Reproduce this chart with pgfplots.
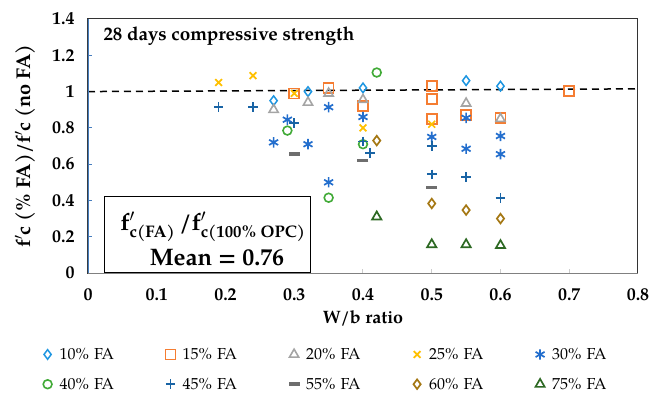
\documentclass[border=0pt]{standalone}
\usepackage{fontspec}
\setmainfont{TeX Gyre Pagella}
\usepackage{amsmath}
\usepackage{pgfplots}
\pgfplotsset{compat=1.18}
\definecolor{cA}{RGB}{30,150,225}
\definecolor{cB}{RGB}{245,125,50}
\definecolor{cC}{RGB}{165,165,165}
\definecolor{cD}{RGB}{255,192,0}
\definecolor{cE}{RGB}{35,110,205}
\definecolor{cF}{RGB}{65,170,55}
\definecolor{cG}{RGB}{25,100,165}
\definecolor{cH}{RGB}{110,110,110}
\definecolor{cI}{RGB}{165,120,20}
\definecolor{cJ}{RGB}{45,105,35}
\definecolor{leftblue}{RGB}{70,125,190}
\begin{document}
\begin{tikzpicture}
\useasboundingbox (-88bp,-121bp) rectangle (576bp,273bp);
\begin{axis}[
  at={(0,0)}, anchor=south west,
  scale only axis, width=550bp, height=254bp,
  xmin=0, xmax=0.8, ymin=0, ymax=1.4,
  xtick={0,0.1,0.2,0.3,0.4,0.5,0.6,0.7,0.8},
  xticklabels={0,0.1,0.2,0.3,0.4,0.5,0.6,0.7,0.8},
  ytick={0,0.2,0.4,0.6,0.8,1,1.2,1.4},
  yticklabels={0,0.2,0.4,0.6,0.8,1,1.2,1.4},
  /pgf/number format/assume math mode=true,
  tick label style={font=\fontsize{18}{18}\selectfont\bfseries},
  yticklabel style={xshift=-10bp},
  xticklabel style={yshift=-12bp},
  tick align=inside, major tick length=4bp,
  ytick pos=left, xtick pos=bottom,
  y tick style={leftblue, line width=1bp},
  x tick style={black!20, line width=1bp},
  axis line style={draw=black!80, line width=1bp},
  xlabel={W/b ratio}, ylabel={f$'$c (\% FA)/f$'$c (no FA)},
  xlabel style={font=\fontsize{18}{18}\selectfont\bfseries, at={(axis description cs:0.5,-0.177)}, anchor=center},
  ylabel style={font=\fontsize{20}{20}\selectfont\bfseries, at={(axis description cs:-0.1145,0.5)}, anchor=center},
  legend columns=5,
  legend cell align=left,
  legend style={at={(0.477,-0.279)}, anchor=north, draw=none, fill=none,
    font=\fontsize{16}{16}\selectfont, column sep=0bp, row sep=13bp,
    nodes={text width=103bp, inner xsep=3bp, align=left}},
  legend image code/.code={\path[draw=none] (0bp,0bp) -- (14bp,0bp); \draw[mark repeat=1,#1] plot coordinates {(5bp,0bp)};},
]
\addplot[forget plot, black, line width=1.5bp, dash pattern=on 7bp off 5bp] coordinates {(0,1.0) (0.8,1.015)};
\addplot[only marks, mark=diamond, mark size=4.8bp, cA, line width=1.5bp] coordinates {
(0.27,0.95) (0.32,1.00) (0.40,1.02) (0.55,1.06) (0.60,1.03)};
\addlegendentry{10\% FA}
\addplot[only marks, mark=square, mark size=5bp, cB, line width=1.7bp] coordinates {
(0.30,0.99) (0.35,1.02) (0.40,0.92) (0.50,1.03) (0.50,0.96) (0.50,0.85) (0.55,0.87) (0.60,0.855) (0.70,1.005)};
\addlegendentry{15\% FA}
\addplot[only marks, mark=triangle, mark size=5.3bp, cC, line width=1.6bp] coordinates {
(0.27,0.90) (0.32,0.94) (0.35,0.99) (0.40,0.955) (0.55,0.935) (0.60,0.85)};
\addlegendentry{20\% FA}
\addplot[only marks, mark=x, mark size=4.8bp, cD, line width=1.7bp] coordinates {
(0.19,1.05) (0.24,1.088) (0.30,0.99) (0.40,0.80) (0.50,0.82)};
\addlegendentry{25\% FA}
\addplot[only marks, mark=asterisk, mark size=5.2bp, cE, line width=1.7bp] coordinates {
(0.27,0.72) (0.29,0.845) (0.32,0.71) (0.35,0.914) (0.35,0.50) (0.40,0.86) (0.50,0.75) (0.55,0.855) (0.55,0.685) (0.60,0.755) (0.60,0.655)};
\addlegendentry{30\% FA}
\addplot[only marks, mark=o, mark size=4.4bp, cF, line width=1.6bp] coordinates {
(0.29,0.785) (0.35,0.415) (0.40,0.71) (0.42,1.105)};
\addlegendentry{40\% FA}
\addplot[only marks, mark=+, mark size=4.8bp, cG, line width=1.7bp] coordinates {
(0.19,0.914) (0.24,0.916) (0.30,0.826) (0.40,0.725) (0.41,0.663) (0.50,0.70) (0.50,0.544) (0.55,0.53) (0.60,0.415)};
\addlegendentry{45\% FA}
\addplot[only marks, mark=-, mark size=5.5bp, cH, line width=3.5bp] coordinates {
(0.30,0.657) (0.40,0.62) (0.50,0.47)};
\addlegendentry{55\% FA}
\addplot[only marks, mark=diamond, mark size=4.8bp, cI, line width=1.7bp] coordinates {
(0.42,0.73) (0.50,0.383) (0.55,0.347) (0.60,0.30)};
\addlegendentry{60\% FA}
\addplot[only marks, mark=triangle, mark size=5.3bp, cJ, line width=1.7bp] coordinates {
(0.42,0.31) (0.50,0.157) (0.55,0.157) (0.60,0.152)};
\addlegendentry{75\% FA}
\draw[leftblue, line width=1.2bp] (rel axis cs:0,0) -- (rel axis cs:0,1);
\draw[black!50, line width=1bp] (rel axis cs:0,0) -- (rel axis cs:1,0);
\node[anchor=west, font=\fontsize{19}{19}\selectfont\bfseries] at (rel axis cs:0,1) [xshift=12bp, yshift=-17bp] {28 days compressive strength};
\node[draw=black, line width=1.2bp, fill=white, minimum width=206bp, minimum height=76bp, anchor=south west, inner sep=0pt] at (rel axis cs:0,0) [xshift=16bp] {};
\node[font=\fontsize{24}{26}\selectfont\bfseries, inner sep=0pt] at (rel axis cs:0,0) [xshift=125bp, yshift=46bp] {f$'_{\text{\bfseries c(FA)}}$\,/f$'_{\text{\bfseries c(100\% OPC)}}$};
\node[font=\fontsize{24}{24}\selectfont\bfseries, inner sep=0pt] at (rel axis cs:0,0) [xshift=129bp, yshift=15bp] {Mean = 0.76};
\end{axis}
\end{tikzpicture}
\end{document}
